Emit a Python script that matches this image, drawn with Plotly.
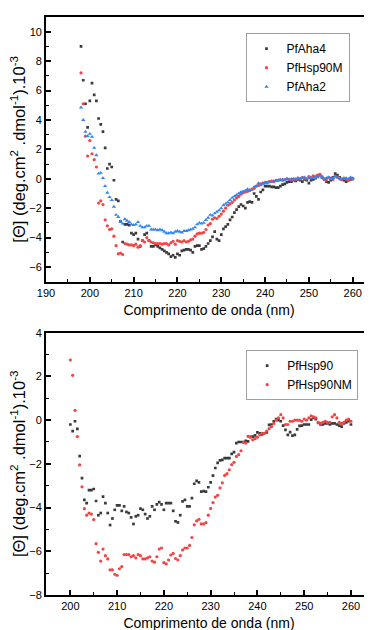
import numpy as np
import plotly.graph_objects as go

# ---------------- data (top panel) ----------------
wl_top = np.arange(198.0, 260.01, 0.5)

pfaha4 = [
    9.0, 6.7, 5.1, 3.5, 5.3, 6.5, 5.7, 5.3, 4.1, 3.7,
    3.2, 2.1, 0.7, 1.0, 0.8, -0.1, -1.4, -1.5, -2.9, -4.3,
    -3.1, -3.1, -3.15, -3.7, -3.8, -3.7, -4.1, -4.6, -4.2, -3.8,
    -3.7, -4.2, -4.6, -4.6, -4.5, -4.6, -4.7, -4.8, -4.9, -5.0,
    -5.1, -5.3, -5.2, -5.35, -5.1, -5.2, -4.9, -4.85, -4.8, -4.8,
    -4.85, -5.0, -4.6, -4.55, -4.55, -4.8, -4.75, -4.6, -4.4, -4.2,
    -3.95, -3.6, -4.1, -4.2, -3.8, -3.4, -3.25, -3.1, -2.8, -2.6,
    -2.3, -2.1, -1.9, -1.75, -1.85, -2.0, -1.6, -1.55, -1.6, -1.0,
    -1.2, -1.4, -0.9, -0.75, -0.5, -0.5, -0.5, -0.55, -0.55, -0.6,
    -0.6, -0.5, -0.4, -0.35, -0.25, -0.2, -0.2, -0.1, -0.15, -0.05,
    -0.1, -0.2, -0.05, -0.1, -0.3, -0.1, -0.05, 0.05, 0.2, 0.25,
    0.1, -0.05, -0.2, -0.25, -0.1, 0.1, 0.35, 0.25, 0.1, -0.05,
    -0.1, -0.2, -0.1, -0.05, 0.0,
]

pfhsp90m = [
    7.2, 5.1, 2.9, 1.55, 2.6, 1.7, 1.3, 0.8, -1.65, -1.5,
    -1.75, -2.8, -3.2, -3.45, -3.4, -3.9, -4.55, -5.1, -5.05, -5.15,
    -4.4, -4.45, -4.5, -4.5, -4.55, -4.45, -4.65, -4.55, -4.2, -4.3,
    -4.0, -4.2, -4.3, -4.35, -4.4, -4.4, -4.4, -4.45, -4.4, -4.4,
    -4.5, -4.35, -4.25, -4.45, -4.2, -4.25, -4.3, -4.2, -4.3, -4.25,
    -4.15, -4.1, -3.9, -3.75, -3.7, -3.7, -3.65, -3.45, -3.15, -3.05,
    -2.75, -2.65, -2.7, -2.55, -2.4, -2.2, -2.0, -1.8, -1.7, -1.6,
    -1.45, -1.3, -1.2, -1.05, -0.95, -0.9, -0.85, -0.8, -0.7, -0.65,
    -0.5, -0.45, -0.35, -0.3, -0.25, -0.25, -0.2, -0.15, -0.2, -0.1,
    -0.1, -0.05, -0.1, -0.05, 0.0, -0.05, -0.1, 0.0, -0.05, 0.05,
    0.0, 0.1, 0.05, 0.0, 0.15, 0.05, 0.2, 0.1, 0.25, 0.3,
    0.15, 0.0, -0.1, 0.1, 0.05, -0.05, 0.2, 0.1, 0.0, -0.05,
    0.05, 0.0, -0.1, 0.05, 0.0,
]

pfaha2 = [
    4.85, 4.0, 3.2, 2.9, 3.05, 2.85, 2.1, 1.6, 0.35, 0.4,
    0.05, -0.5, -0.95, -1.25, -1.45, -1.9, -2.45, -2.6, -2.9, -3.05,
    -2.75, -2.85, -2.95, -3.1, -3.15, -3.1, -2.95, -3.2, -3.3, -3.3,
    -3.2, -3.2, -3.45, -3.45, -3.45, -3.5, -3.45, -3.5, -3.6, -3.7,
    -3.7, -3.65, -3.7, -3.6, -3.55, -3.6, -3.65, -3.55, -3.55, -3.5,
    -3.45, -3.4, -3.3, -3.1, -3.0, -3.05, -3.0, -2.8, -2.65, -2.45,
    -2.5, -2.35, -2.25, -2.15, -2.0, -1.8, -1.7, -1.6, -1.45, -1.3,
    -1.2, -1.1, -1.0, -0.9, -0.85, -0.8, -0.7, -0.75, -0.75, -0.55,
    -0.5, -0.3, -0.45, -0.35, -0.3, -0.25, -0.2, -0.2, -0.15, -0.15,
    -0.1, -0.1, -0.05, -0.1, 0.0, -0.05, 0.0, -0.05, 0.0, 0.05,
    0.0, 0.05, 0.1, 0.0, 0.05, 0.1, 0.05, 0.15, 0.1, 0.2,
    0.1, 0.0, 0.05, 0.1, 0.0, 0.05, 0.15, 0.1, 0.05, 0.0,
    0.0, 0.05, 0.0, 0.1, 0.05,
]

# ---------------- data (bottom panel) ----------------
wl_bot = np.arange(200.0, 260.01, 0.5)

pfhsp90 = [
    -0.2, -0.5, -0.05, -0.4, -1.65, -2.65, -3.65, -3.8, -3.2, -3.2,
    -3.15, -3.7, -4.35, -4.25, -3.5, -3.8, -4.25, -4.8, -4.5, -4.1,
    -3.9, -3.9, -4.15, -3.95, -4.2, -4.25, -4.45, -4.75, -4.4, -4.35,
    -4.05, -4.1, -4.3, -4.5, -4.4, -3.95, -4.1, -3.85, -3.75, -3.85,
    -4.1, -3.8, -3.8, -3.8, -4.15, -4.63, -4.68, -4.35, -3.72, -3.65,
    -3.95, -3.95, -3.57, -2.91, -2.78, -2.85, -3.27, -3.25, -3.27, -3.07,
    -2.85, -2.54, -2.19, -1.96, -1.84, -1.82, -1.74, -1.74, -1.74, -1.54,
    -1.46, -1.05, -1.0, -1.0, -1.0, -0.95, -0.97, -0.77, -0.75, -0.7,
    -0.56, -0.6, -0.65, -0.6, -0.56, -0.22, -0.2, -0.05, 0.05, 0.0,
    -0.05, -0.25, -0.45, -0.67, -0.55, -0.71, -0.67, -0.42, -0.26, -0.25,
    -0.2, -0.2, -0.2, 0.02, 0.1, 0.05, -0.13, -0.2, -0.2, -0.15,
    -0.15, -0.2, -0.15, -0.15, -0.2, -0.25, -0.3, -0.15, -0.1, -0.05,
    -0.2,
]

pfhsp90nm = [
    2.75, 2.05, 0.45, -0.75, -2.05, -3.05, -4.05, -4.35, -4.25, -4.3,
    -4.55, -5.65, -6.05, -6.45, -5.9, -6.2, -6.35, -6.85, -6.85, -7.05,
    -7.1, -6.8, -6.7, -6.15, -6.15, -6.15, -6.25, -6.2, -6.3, -6.15,
    -6.2, -6.35, -6.35, -6.3, -6.25, -6.45, -6.5, -6.25, -5.9, -5.85,
    -6.52, -6.58, -6.4, -6.17, -6.1, -6.33, -6.4, -6.2, -5.94, -5.85,
    -5.85, -5.73, -5.37, -4.79, -4.61, -4.54, -4.75, -4.75, -4.69, -4.35,
    -4.04, -3.77, -3.52, -3.44, -3.1, -2.87, -2.53, -2.45, -2.27, -2.04,
    -1.93, -1.66, -1.58, -1.4, -1.02, -1.05, -0.74, -0.78, -0.9, -0.85,
    -0.78, -0.67, -0.6, -0.6, -0.5, -0.39, -0.3, -0.15, 0.0, 0.1,
    0.25, 0.1, -0.2, -0.2, -0.05, -0.05, 0.0, 0.0, 0.0, -0.05,
    0.05, 0.0, 0.1, 0.2, 0.15, 0.1, -0.1, -0.15, -0.1, -0.05,
    -0.1, -0.1, 0.15, 0.25, 0.1, -0.1, -0.15, -0.1, 0.0, 0.05,
    -0.05,
]

C_BLACK = "#3a3a3a"
C_RED = "#f44444"
C_BLUE = "#3584f2"
FONT = "Liberation Sans, Arial, sans-serif"

fig = go.Figure()

def add(x, y, name, color, symbol, size, xa, ya, lg):
    fig.add_trace(go.Scatter(
        x=x, y=y, mode="markers", name=name,
        marker=dict(color=color, symbol=symbol, size=size, line=dict(width=0)),
        xaxis=xa, yaxis=ya, legend=lg,
    ))

add(wl_top, pfaha4, "PfAha4", C_BLACK, "square", 2.7, "x", "y", "legend")
add(wl_top, pfhsp90m, "PfHsp90M", C_RED, "circle", 3.2, "x", "y", "legend")
add(wl_top, pfaha2, "PfAha2", C_BLUE, "triangle-up", 3.8, "x", "y", "legend")
add(wl_bot, pfhsp90, "PfHsp90", C_BLACK, "square", 2.7, "x2", "y2", "legend2")
add(wl_bot, pfhsp90nm, "PfHsp90NM", C_RED, "circle", 3.2, "x2", "y2", "legend2")

ytitle = "[\u0398] (deg.cm<sup>2</sup> .dmol<sup>-1</sup>).10<sup>-3</sup>"

def xaxis_cfg(rng, anchor):
    return dict(
        range=rng, anchor=anchor, tick0=0, dtick=10,
        ticks="inside", ticklen=5, tickwidth=1.5, tickcolor="black",
        minor=dict(ticks="inside", dtick=5, ticklen=3, tickwidth=1.2, tickcolor="black"),
        showline=True, linewidth=1.8, linecolor="black", mirror=True,
        showgrid=False, zeroline=False,
        tickfont=dict(size=11, color="black", family=FONT),
        title=dict(text="Comprimento de onda (nm)", font=dict(size=14, color="black", family=FONT), standoff=7),
        automargin=False,
    )

def yaxis_cfg(rng, dom, anchor):
    return dict(
        range=rng, domain=dom, anchor=anchor, tick0=0, dtick=2,
        ticks="inside", ticklen=5, tickwidth=1.5, tickcolor="black",
        minor=dict(ticks="inside", dtick=1, ticklen=3, tickwidth=1.2, tickcolor="black"),
        showline=True, linewidth=1.8, linecolor="black", mirror=False,
        showgrid=False, zeroline=False,
        tickfont=dict(size=11, color="black", family=FONT),
        title=dict(text=ytitle, font=dict(size=16.5, color="black", family=FONT), standoff=2),
        automargin=False,
    )

legend_common = dict(
    xanchor="left", yanchor="top", bgcolor="white",
    bordercolor="#a0a0a0", borderwidth=1,
    font=dict(size=12, color="black", family=FONT),
    itemwidth=30, tracegroupgap=0,
)

# The page body adds an 8 px offset, so margins are reduced by 8 px on top/left.
fig.update_layout(
    width=372, height=630,
    margin=dict(l=38, r=8, t=9, b=43),
    paper_bgcolor="white", plot_bgcolor="white",
    font=dict(family=FONT, color="black"),
    xaxis=xaxis_cfg([190, 264.4], "y"),
    yaxis=yaxis_cfg([-7, 11], [0.542, 1.0], "x"),
    xaxis2=xaxis_cfg([194.8, 264.5], "y2"),
    yaxis2=yaxis_cfg([-8, 4], [0.0, 0.4538], "x2"),
    legend=dict(x=0.612, y=0.972, **legend_common),
    legend2=dict(x=0.614, y=0.4237, **legend_common),
    showlegend=True,
)

fig.write_html("out.html")
